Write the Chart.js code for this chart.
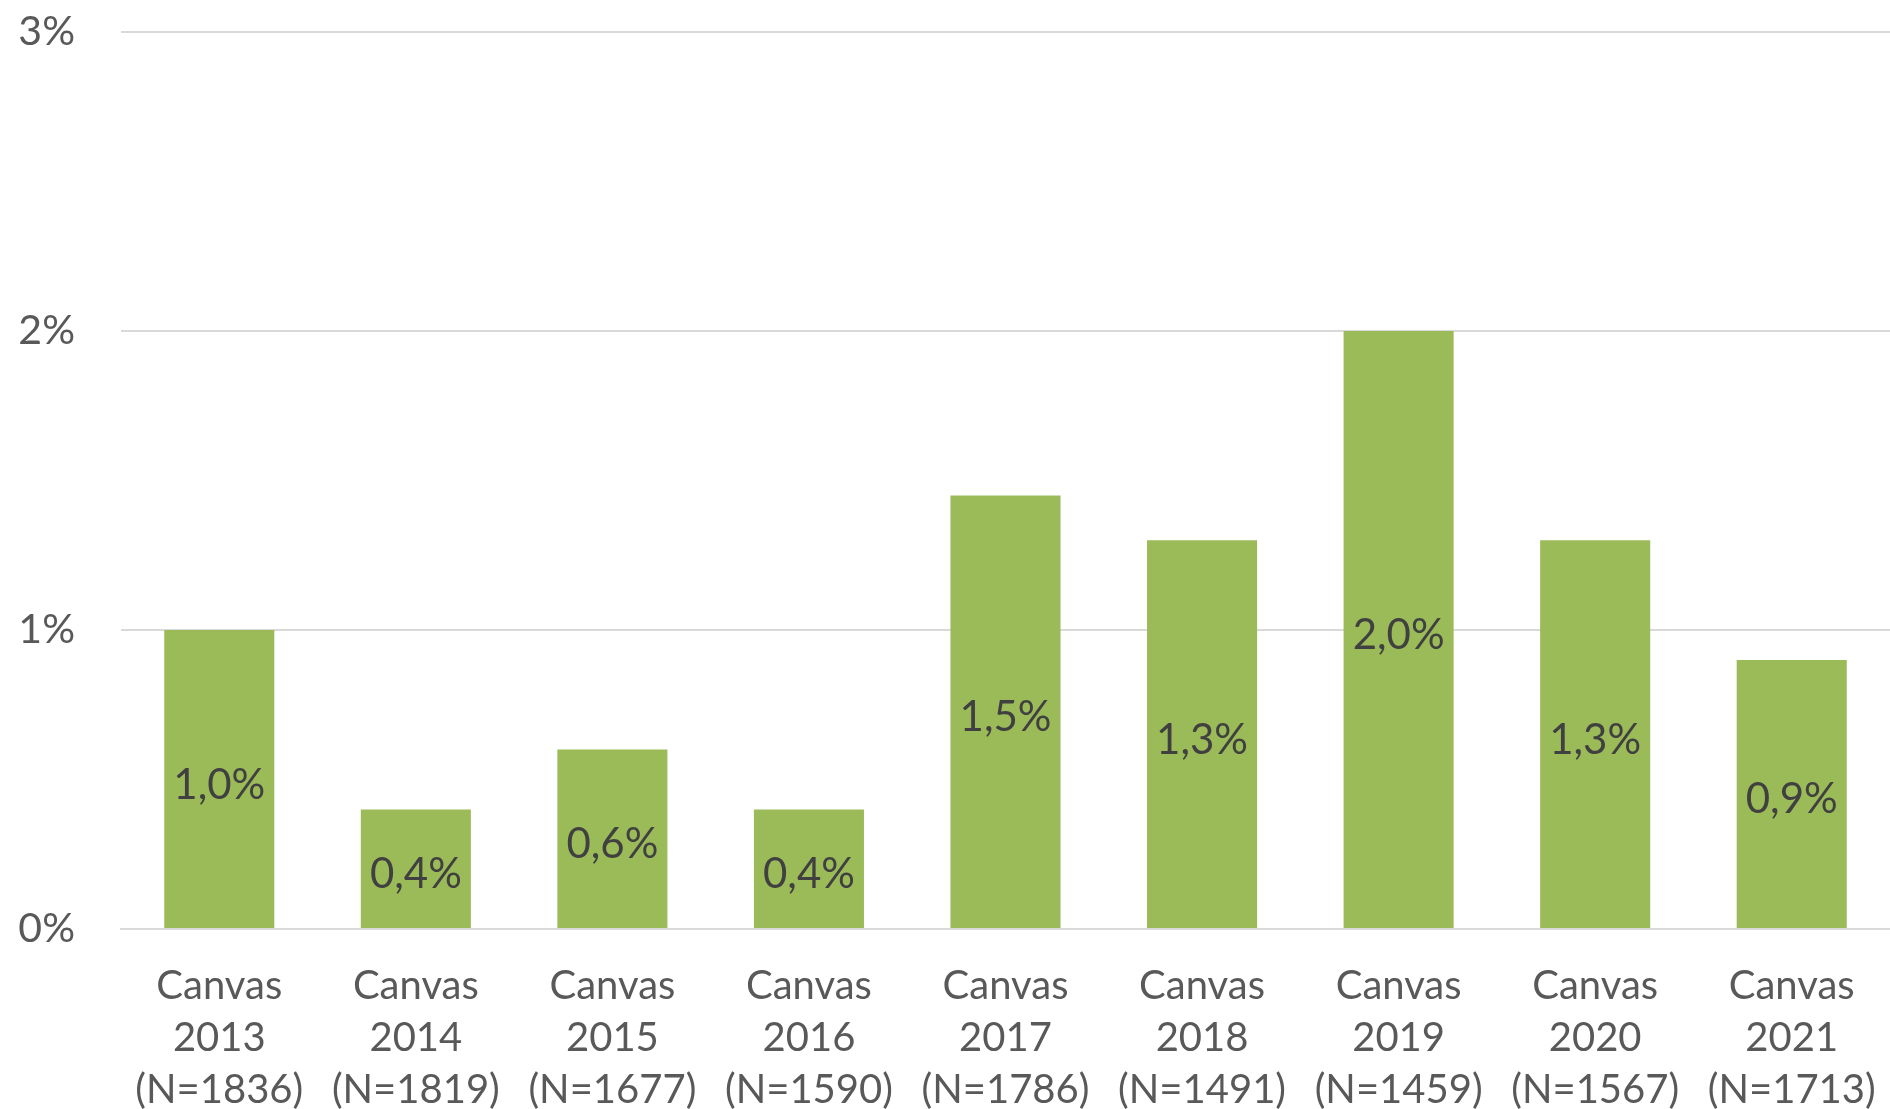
<!DOCTYPE html>
<html>
<head>
<meta charset="utf-8">
<script src="https://cdn.jsdelivr.net/npm/chart.js@4/dist/chart.umd.min.js"></script>
<style>
  html, body { margin: 0; padding: 0; background: #ffffff; }
  #wrap { width: 1890px; height: 1109px; position: relative; }
</style>
</head>
<body>
<div id="wrap"><canvas id="c" width="1890" height="1109"></canvas></div>
<script>
const years = ["2013", "2014", "2015", "2016", "2017", "2018", "2019", "2020", "2021"];
const sampleSizes = ["1836", "1819", "1677", "1590", "1786", "1491", "1459", "1567", "1713"];
const values = [1.0, 0.4, 0.6, 0.4, 1.45, 1.3, 2.0, 1.3, 0.9];
const valueLabels = ["1,0%", "0,4%", "0,6%", "0,4%", "1,5%", "1,3%", "2,0%", "1,3%", "0,9%"];
const yTicks = [0, 1, 2, 3];

const labels = years.map((y, i) => ["Canvas", y, "(N=" + sampleSizes[i] + ")"]);
const FONT = 'Lato, "Open Sans", sans-serif';

const barLabelPlugin = {
  id: 'barLabels',
  afterDatasetsDraw(chart) {
    const ctx = chart.ctx;
    const meta = chart.getDatasetMeta(0);
    ctx.save();
    ctx.font = '42px ' + FONT;
    ctx.fillStyle = '#404040';
    ctx.textAlign = 'center';
    ctx.textBaseline = 'middle';
    meta.data.forEach((bar, i) => {
      const y = (bar.y + bar.base) / 2 + 6;
      ctx.fillText(valueLabels[i], bar.x, y);
    });
    ctx.restore();
  }
};

new Chart(document.getElementById('c'), {
  type: 'bar',
  data: {
    labels: labels,
    datasets: [{
      data: values,
      backgroundColor: '#9BBB59',
      borderWidth: 0,
      barPercentage: 0.56,
      categoryPercentage: 1.0
    }]
  },
  options: {
    responsive: false,
    animation: false,
    devicePixelRatio: 1,
    layout: { padding: { top: 32, right: 0, left: 0, bottom: 0 } },
    plugins: {
      legend: { display: false },
      tooltip: { enabled: false }
    },
    scales: {
      x: {
        grid: { display: false, drawTicks: false },
        border: { display: true, color: '#d9d9d9', width: 2 },
        ticks: {
          color: '#595959',
          font: { family: FONT, size: 40, lineHeight: 1.3 },
          padding: 31,
          maxRotation: 0,
          autoSkip: false
        },
        afterFit(scale) {
          scale.height = 1109 - 929;
          scale.paddingLeft = 0;
          scale.paddingRight = 0;
        }
      },
      y: {
        min: 0,
        max: 3,
        afterBuildTicks(scale) { scale.ticks = yTicks.map(v => ({ value: v })); },
        grid: { color: '#d9d9d9', lineWidth: 2, drawTicks: false },
        border: { display: false },
        ticks: {
          color: '#595959',
          font: { family: FONT, size: 41 },
          padding: 46,
          callback: (v) => v + '%'
        },
        afterFit(scale) {
          scale.width = 121;
          scale.paddingTop = 0;
          scale.paddingBottom = 0;
        }
      }
    }
  },
  plugins: [barLabelPlugin]
});
</script>
</body>
</html>
